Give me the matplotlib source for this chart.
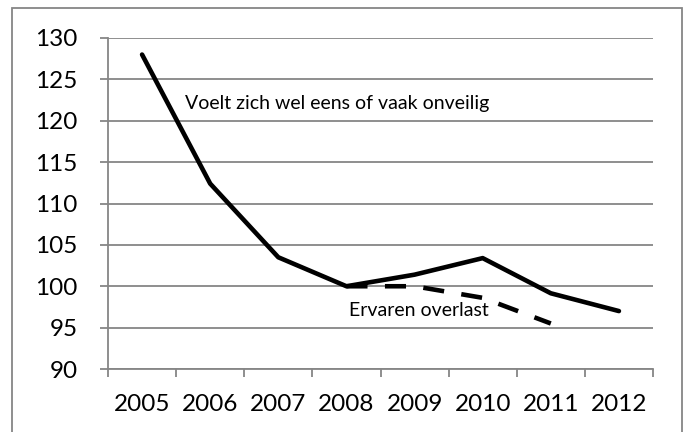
import matplotlib
matplotlib.use("Agg")
import matplotlib.pyplot as plt
from matplotlib.patches import Rectangle
from matplotlib.ticker import FixedLocator, NullFormatter

years = ["2005", "2006", "2007", "2008", "2009", "2010", "2011", "2012"]
onveilig = [128.0, 112.4, 103.5, 100.0, 101.4, 103.4, 99.15, 97.0]
overlast_years = ["2008", "2009", "2010", "2011"]
overlast = [100.0, 100.0, 98.6, 95.5]
yticks = [90, 95, 100, 105, 110, 115, 120, 125, 130]

plt.rcParams['font.family'] = ['Lato', 'DejaVu Sans']

fig = plt.figure(figsize=(6.85, 4.32), dpi=100)
W, H = 685, 432
ax = fig.add_axes([108 / W, 1 - 369 / H, (653 - 108) / W, (369 - 38) / H])

gray = "#868686"
x = list(range(len(years)))
xo = [years.index(y) for y in overlast_years]

ax.plot(x, onveilig, color="black", lw=3.3, solid_capstyle="round",
        solid_joinstyle="round", zorder=3)
ax.plot(xo, overlast, color="black", lw=3.3, dashes=(4.6, 3.8),
        dash_capstyle="butt", zorder=3)

ax.set_xlim(-0.5, len(years) - 0.5)
ax.set_ylim(90, 130)
ax.set_yticks(yticks)
ax.set_yticklabels([str(v) for v in yticks])
ax.set_xticks(x)
ax.set_xticklabels(years)
ax.xaxis.set_minor_locator(FixedLocator([i - 0.5 for i in range(len(years) + 1)]))
ax.xaxis.set_minor_formatter(NullFormatter())

ax.grid(axis="y", color=gray, lw=1.3, zorder=0)
ax.set_axisbelow(True)
for s in ["top", "right"]:
    ax.spines[s].set_visible(False)
for s in ["left", "bottom"]:
    ax.spines[s].set_color(gray)
    ax.spines[s].set_linewidth(1.3)

ax.tick_params(axis="y", which="major", length=6, width=1.3, color=gray,
               pad=16, labelsize=17.5)
ax.tick_params(axis="x", which="major", length=0, pad=18, labelsize=17.5)
ax.tick_params(axis="x", which="minor", length=6, width=1.3, color=gray)

fig.text(185 / W, 1 - 103 / H, "Voelt zich wel eens of vaak onveilig",
         fontsize=14, ha="left", va="center")
fig.text(349 / W, 1 - 310 / H, "Ervaren overlast", fontsize=14,
         ha="left", va="center")

fig.patches.append(Rectangle((12.5 / W, -0.05), (681.5 - 12.5) / W,
                             1.05 - 8.3 / H, transform=fig.transFigure,
                             fill=False, edgecolor=gray, lw=1.3))

fig.savefig("out.png", dpi=100)
